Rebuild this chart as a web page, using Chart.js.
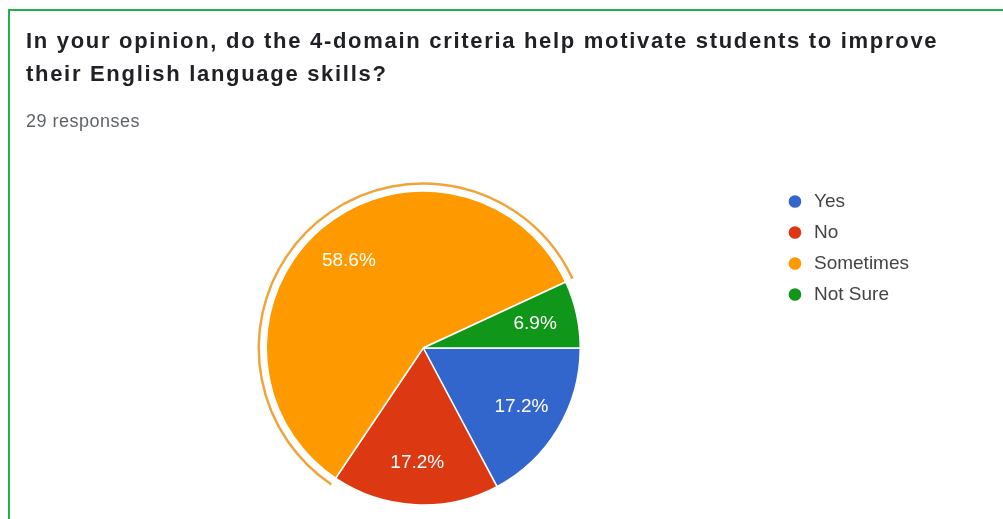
<!DOCTYPE html>
<html>
<head>
<meta charset="utf-8">
<script src="https://cdn.jsdelivr.net/npm/chart.js@4.4.1/dist/chart.umd.min.js"></script>
<style>
  html, body { margin: 0; padding: 0; background: #fff; }
  #wrap { position: relative; width: 1003px; height: 519px; overflow: hidden; }
  #frame {
    position: absolute; left: 8px; top: 9px; width: 1100px; height: 600px;
    border-top: 2px solid #22b14c; border-left: 2px solid #22b14c;
  }
  #title {
    position: absolute; left: 26px; top: 24px; white-space: nowrap;
    font: bold 22px 'Liberation Sans', Arial, sans-serif; line-height: 33px;
    letter-spacing: 1.7px; color: #202124;
  }
  #sub {
    position: absolute; left: 26px; top: 111px; white-space: nowrap;
    font: 18px 'Liberation Sans', Arial, sans-serif; line-height: 20px;
    letter-spacing: 0.5px; color: #5f6368;
  }
  #chart { position: absolute; left: 0; top: 0; }
</style>
</head>
<body>
<div id="wrap">
  <div id="frame"></div>
  <canvas id="chart" width="1003" height="519"></canvas>
  <div id="title">In your opinion, do the 4-domain criteria help motivate students to improve<br>their English language skills?</div>
  <div id="sub">29 responses</div>
</div>
<script>
// answers and their share of the 29 responses (%)
const answers = ["Yes", "No", "Sometimes", "Not Sure"];
const shares = [17.2, 17.2, 58.6, 6.9];
const sliceColors = ["#3366cc", "#dc3912", "#ff9900", "#109618"];
const selectedAnswer = "Sometimes";

const FONT = "'Liberation Sans', Arial, sans-serif";

// percentage text inside each slice
const sliceLabels = {
  id: "sliceLabels",
  afterDatasetsDraw(chart) {
    const { ctx } = chart;
    const meta = chart.getDatasetMeta(0);
    ctx.save();
    ctx.font = `19px ${FONT}`;
    ctx.fillStyle = "#ffffff";
    ctx.textAlign = "center";
    ctx.textBaseline = "middle";
    meta.data.forEach((arc, i) => {
      const { x, y, startAngle, endAngle, outerRadius } = arc.getProps(["x", "y", "startAngle", "endAngle", "outerRadius"], true);
      const mid = (startAngle + endAngle) / 2;
      const r = outerRadius * 0.73;
      ctx.fillText(shares[i].toFixed(1) + "%", x + Math.cos(mid) * r, y + Math.sin(mid) * r);
    });
    ctx.restore();
  }
};

// thin outer ring marking the selected slice
const selectedRing = {
  id: "selectedRing",
  afterDatasetsDraw(chart) {
    const idx = answers.indexOf(selectedAnswer);
    const arc = chart.getDatasetMeta(0).data[idx];
    if (!arc) return;
    const { x, y, startAngle, endAngle, outerRadius } = arc.getProps(["x", "y", "startAngle", "endAngle", "outerRadius"], true);
    const { ctx } = chart;
    ctx.save();
    ctx.beginPath();
    ctx.arc(x, y, outerRadius + 7.5, startAngle, endAngle);
    ctx.lineWidth = 2.5;
    ctx.strokeStyle = "#f0a43c";
    ctx.stroke();
    ctx.restore();
  }
};

new Chart(document.getElementById("chart"), {
  type: "pie",
  data: {
    labels: answers,
    datasets: [{
      data: shares,
      backgroundColor: sliceColors,
      borderColor: "#ffffff",
      borderWidth: 1.5,
      hoverOffset: 0,
      radius: 157
    }]
  },
  options: {
    responsive: false,
    animation: false,
    rotation: 90,
    layout: { padding: { left: 73, right: 84, top: 180, bottom: 3 } },
    plugins: {
      tooltip: { enabled: false },
      legend: {
        position: "right",
        align: "start",
        labels: {
          usePointStyle: true,
          pointStyle: "circle",
          boxHeight: 10,
          padding: 12,
          color: "#444444",
          font: { family: FONT, size: 19 }
        }
      }
    }
  },
  plugins: [sliceLabels, selectedRing]
});
</script>
</body>
</html>
